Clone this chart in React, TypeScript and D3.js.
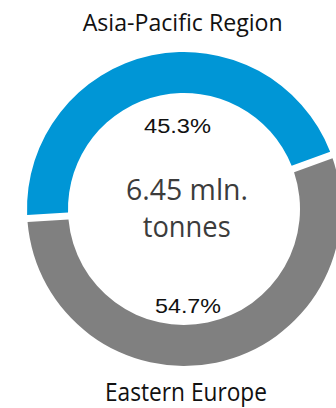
import React from "react";
import * as d3 from "d3";

const categories = ["Asia-Pacific Region", "Eastern Europe"];
const shares = [45.3, 54.7];
const shareLabels = ["45.3%", "54.7%"];
const totalLines = ["6.45 mln.", "tonnes"];
const colors = ["#0096d6", "#808080"];

const W = 336;
const H = 408;
const cx = 184;
const cy = 209;
const outerR = 157;
const innerR = 116;
const gap = 7;
const deg = Math.PI / 180;
const start = -93.5 * deg;

export default function App() {
  const pie = d3
    .pie<number>()
    .sort(null)
    .value((d) => d)
    .startAngle(start)
    .endAngle(start + 2 * Math.PI)
    .padAngle(gap / 136);
  const arcs = pie(shares);
  const arc = d3
    .arc<d3.PieArcDatum<number>>()
    .innerRadius(innerR)
    .outerRadius(outerR)
    .padRadius(136);

  const font = "'Open Sans', 'Noto Sans', sans-serif";
  const numFont = "'Liberation Sans', Arial, sans-serif";

  return (
    <svg
      width={W}
      height={H}
      style={{ position: "absolute", left: 0, top: 0, background: "#fff" }}
    >
      <rect width={W} height={H} fill="#fff" />
      <g transform={`translate(${cx},${cy})`}>
        {arcs.map((a, i) => (
          <path key={i} d={arc(a) || ""} fill={colors[i]} />
        ))}
      </g>
      <text
        x={182.7}
        y={31}
        textAnchor="middle"
        fontFamily={font}
        fontSize={24.5}
        fill="#111"
        textLength={200}
        lengthAdjust="spacingAndGlyphs"
      >
        {categories[0]}
      </text>
      <text
        x={186}
        y={400.7}
        textAnchor="middle"
        fontFamily={font}
        fontSize={25}
        fill="#111"
        textLength={162}
        lengthAdjust="spacingAndGlyphs"
      >
        {categories[1]}
      </text>
      <text
        x={177.5}
        y={132.7}
        textAnchor="middle"
        fontFamily={numFont}
        fontSize={20}
        fill="#111"
        textLength={67}
        lengthAdjust="spacingAndGlyphs"
      >
        {shareLabels[0]}
      </text>
      <text
        x={188}
        y={313.3}
        textAnchor="middle"
        fontFamily={numFont}
        fontSize={21}
        fill="#111"
        textLength={66}
        lengthAdjust="spacingAndGlyphs"
      >
        {shareLabels[1]}
      </text>
      <text
        x={187}
        y={200}
        textAnchor="middle"
        fontFamily={font}
        fontSize={30}
        fill="#3c3c3c"
        textLength={122}
        lengthAdjust="spacingAndGlyphs"
      >
        {totalLines[0]}
      </text>
      <text
        x={186.7}
        y={237.3}
        textAnchor="middle"
        fontFamily={font}
        fontSize={29}
        fill="#3c3c3c"
        textLength={88}
        lengthAdjust="spacingAndGlyphs"
      >
        {totalLines[1]}
      </text>
    </svg>
  );
}
